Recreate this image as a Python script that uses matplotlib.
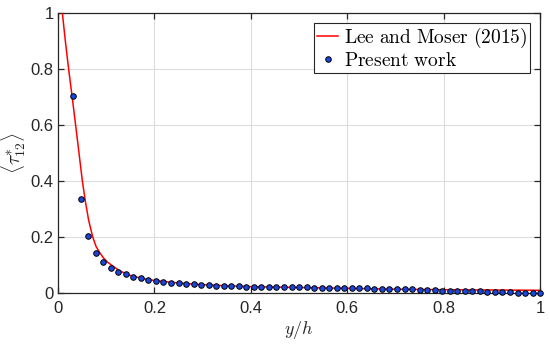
import matplotlib
matplotlib.use('Agg')
import matplotlib.pyplot as plt

plt.rcParams['mathtext.fontset'] = 'cm'
plt.rcParams['font.family'] = ['Liberation Sans', 'DejaVu Sans']

# reference curve, Lee and Moser (2015)
ref_x = [0.0075, 0.009, 0.0152, 0.022, 0.029, 0.0365, 0.0435, 0.0505, 0.0565, 0.0635,
         0.072, 0.079, 0.087, 0.095, 0.103, 0.111, 0.127, 0.15, 0.175, 0.2,
         0.25, 0.3, 0.35, 0.4, 0.5, 0.6, 0.7, 0.8, 0.9, 1.0]
ref_y = [1.03, 1.0, 0.90, 0.80, 0.705, 0.60, 0.50, 0.40, 0.33, 0.26,
         0.20, 0.166, 0.143, 0.124, 0.110, 0.100, 0.080, 0.063, 0.052, 0.045,
         0.036, 0.030, 0.026, 0.023, 0.020, 0.017, 0.014, 0.012, 0.011, 0.010]

# present work, points at k/64
k = list(range(2, 65))
pw_x = [i / 64 for i in k]
pw_y = [0.705, 0.337, 0.205, 0.142, 0.111, 0.090, 0.077, 0.067, 0.059, 0.053,
        0.048, 0.044, 0.040, 0.037, 0.035, 0.033, 0.031, 0.029, 0.028, 0.027,
        0.026, 0.025, 0.024, 0.023, 0.022, 0.022, 0.021, 0.021, 0.021, 0.020,
        0.020, 0.020, 0.019, 0.019, 0.019, 0.018, 0.018, 0.018, 0.017, 0.017,
        0.016, 0.016, 0.015, 0.014, 0.014, 0.013, 0.012, 0.011, 0.010, 0.009,
        0.008, 0.008, 0.007, 0.006, 0.006, 0.005, 0.004, 0.003, 0.003, 0.002,
        0.001, 0.001, 0.000]

fig = plt.figure(figsize=(5.5, 3.44), dpi=100)
ax = fig.add_axes([0.1055, 0.148, 0.8765, 0.814])

ax.plot(ref_x, ref_y, color='red', lw=1.1, label=r'$\mathrm{Lee\ and\ Moser\ (2015)}$', zorder=3)
ax.plot(pw_x, pw_y, 'o', ms=4, mfc='#1846e0', mec='black', mew=0.7,
        label=r'$\mathrm{Present\ work}$', zorder=4, clip_on=False)

ax.set_xlim(0, 1)
ax.set_ylim(0, 1)
ax.set_xticks([0, 0.2, 0.4, 0.6, 0.8, 1])
ax.set_yticks([0, 0.2, 0.4, 0.6, 0.8, 1])
ax.set_xticklabels(['0', '0.2', '0.4', '0.6', '0.8', '1'])
ax.set_yticklabels(['0', '0.2', '0.4', '0.6', '0.8', '1'])

ax.grid(True, color='#dcdcdc', lw=0.8)
ax.set_axisbelow(True)
for s in ax.spines.values():
    s.set_color('#262626')
    s.set_linewidth(0.9)
ax.tick_params(direction='in', top=True, right=True, length=4, width=0.9,
               colors='#262626', labelsize=12)
ax.tick_params(axis='y', pad=3)
ax.tick_params(axis='x', pad=6)

ax.set_xlabel(r'$y/h$', fontsize=13, color='#262626', labelpad=2)
ax.set_ylabel(r'$\langle \tau_{12}^{*} \rangle$', fontsize=14, color='#262626')
ax.yaxis.set_label_coords(-0.062, 0.5)

leg = ax.legend(loc='upper right', fontsize=14, frameon=True, fancybox=False,
                edgecolor='#262626', framealpha=1, handlelength=1.1,
                handletextpad=0.3, borderpad=0.15, labelspacing=0.12,
                borderaxespad=0.5)
leg.get_frame().set_linewidth(0.8)

fig.savefig('out.png', dpi=100)
